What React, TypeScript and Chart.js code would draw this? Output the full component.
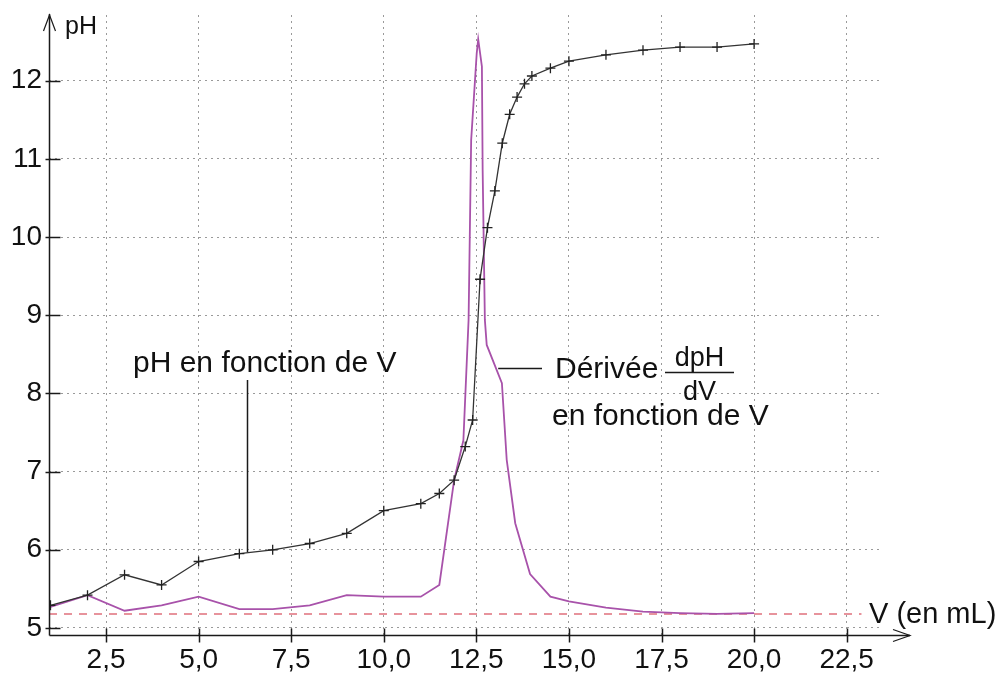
import React, { useEffect, useRef } from "react";
import { Chart, registerables } from "chart.js";

Chart.register(...registerables);

// pH measurements (V in mL)
const phV = [1, 2, 3, 4, 5, 6.1, 7, 8, 9, 10, 11, 11.5, 11.9, 12.2, 12.4, 12.6, 12.8, 13, 13.2, 13.4, 13.6, 13.8, 14, 14.5, 15, 16, 17, 18, 19, 20];
const phValues = [5.29, 5.42, 5.68, 5.55, 5.85, 5.95, 6.0, 6.08, 6.21, 6.5, 6.59, 6.72, 6.89, 7.32, 7.66, 9.46, 10.12, 10.59, 11.2, 11.57, 11.79, 11.96, 12.06, 12.16, 12.25, 12.33, 12.39, 12.43, 12.43, 12.47];

// derivative dpH/dV as drawn on the pH axis
const derivV = [1, 2, 3, 4, 5, 6.1, 7, 8, 9, 10, 11, 11.5, 11.9, 12.15, 12.29, 12.36, 12.51, 12.55, 12.65, 12.67, 12.73, 12.78, 13.19, 13.32, 13.55, 13.95, 14.5, 15, 16, 17, 18, 19, 20];
const derivValues = [5.27, 5.42, 5.22, 5.29, 5.4, 5.24, 5.24, 5.29, 5.42, 5.4, 5.4, 5.55, 6.89, 7.4, 8.94, 11.24, 12.35, 12.53, 12.18, 10.86, 8.94, 8.62, 8.13, 7.15, 6.34, 5.69, 5.4, 5.34, 5.26, 5.21, 5.19, 5.18, 5.19];

// zero line of the derivative
const refV = [0.96, 22.9];
const refValues = [5.18, 5.18];

const xTickValues = [2.5, 5, 7.5, 10, 12.5, 15, 17.5, 20, 22.5];
const xTickLabels = ["2,5", "5,0", "7,5", "10,0", "12,5", "15,0", "17,5", "20,0", "22,5"];
const yTickValues = [5, 6, 7, 8, 9, 10, 11, 12];
const yTickLabels = ["5", "6", "7", "8", "9", "10", "11", "12"];

const FONT = "'Liberation Sans', Arial, sans-serif";

const overlay = {
  id: "overlay",
  afterDraw(chart: any) {
    const ctx = chart.ctx as CanvasRenderingContext2D;
    const { left, right, top, bottom } = chart.chartArea;
    const xs = chart.scales.x;
    const ys = chart.scales.y;
    ctx.save();
    ctx.strokeStyle = "#1a1a1a";
    ctx.lineWidth = 1.5;
    // y axis
    const ax = left + 0.5;
    const ay = bottom + 0.5;
    ctx.beginPath();
    ctx.moveTo(ax, ay);
    ctx.lineTo(ax, top - 1);
    ctx.stroke();
    ctx.lineWidth = 1.2;
    ctx.beginPath();
    ctx.moveTo(ax - 6, top + 16);
    ctx.lineTo(ax, top);
    ctx.lineTo(ax + 6, top + 16);
    ctx.stroke();
    // x axis
    const xEnd = right + 30;
    ctx.lineWidth = 1.5;
    ctx.beginPath();
    ctx.moveTo(ax, ay);
    ctx.lineTo(xEnd, ay);
    ctx.stroke();
    ctx.lineWidth = 1.2;
    ctx.beginPath();
    ctx.moveTo(xEnd - 17, ay - 6);
    ctx.lineTo(xEnd, ay);
    ctx.lineTo(xEnd - 17, ay + 6);
    ctx.stroke();
    // tick marks
    ctx.lineWidth = 1.5;
    yTickValues.forEach((v) => {
      const py = Math.round(ys.getPixelForValue(v)) + 0.5;
      ctx.beginPath();
      ctx.moveTo(ax - 4, py);
      ctx.lineTo(ax + 11, py);
      ctx.stroke();
    });
    xTickValues.forEach((v) => {
      const px = Math.round(xs.getPixelForValue(v)) + 0.5;
      ctx.beginPath();
      ctx.moveTo(px, ay - 7);
      ctx.lineTo(px, ay + 7);
      ctx.stroke();
    });

    // texts
    ctx.fillStyle = "#111";
    ctx.textBaseline = "alphabetic";
    ctx.textAlign = "left";
    ctx.font = `25px ${FONT}`;
    ctx.fillText("pH", 65, 34);
    ctx.font = `29px ${FONT}`;
    ctx.fillText("V (en mL)", 869, 623);
    ctx.font = `30px ${FONT}`;
    ctx.fillText("pH en fonction de V", 133, 372);
    ctx.fillText("Dérivée", 555, 378);
    ctx.fillText("en fonction de V", 552, 425);
    ctx.font = `27px ${FONT}`;
    ctx.textAlign = "center";
    ctx.fillText("dpH", 699.5, 366);
    ctx.fillText("dV", 699.5, 400);
    ctx.lineWidth = 1.5;
    ctx.beginPath();
    ctx.moveTo(665, 372.5);
    ctx.lineTo(734, 372.5);
    ctx.stroke();

    // connectors
    const c1x = Math.round(xs.getPixelForValue(6.3)) + 0.5;
    const c1y = ys.getPixelForValue(5.97);
    ctx.beginPath();
    ctx.moveTo(c1x, 380);
    ctx.lineTo(c1x, c1y);
    ctx.stroke();
    const c2x = xs.getPixelForValue(13.09);
    const c2y = Math.round(ys.getPixelForValue(8.32)) + 0.5;
    ctx.beginPath();
    ctx.moveTo(c2x, c2y);
    ctx.lineTo(542, c2y);
    ctx.stroke();
    ctx.restore();
  },
};

export default function App() {
  const ref = useRef<HTMLCanvasElement | null>(null);
  useEffect(() => {
    if (!ref.current) return;
    const toPts = (xsArr: number[], ysArr: number[]) => xsArr.map((x, i) => ({ x, y: ysArr[i] }));
    const chart = new Chart(ref.current, {
      type: "scatter",
      data: {
        datasets: [
          {
            label: "pH",
            data: toPts(phV, phValues),
            showLine: true,
            borderColor: "#333",
            borderWidth: 1.3,
            pointStyle: "cross",
            pointRadius: 5,
            pointBorderColor: "#222",
            pointBorderWidth: 1.3,
            pointBackgroundColor: "#222",
            tension: 0,
            order: 0,
          },
          {
            label: "dpH/dV",
            data: toPts(derivV, derivValues),
            showLine: true,
            borderColor: "#a852aa",
            borderWidth: 1.8,
            pointRadius: 0,
            tension: 0,
            order: 1,
          },
          {
            label: "zero",
            data: toPts(refV, refValues),
            showLine: true,
            borderColor: "#e0707c",
            borderWidth: 1.5,
            borderDash: [8, 7],
            pointRadius: 0,
            tension: 0,
            order: 2,
          },
        ],
      },
      options: {
        responsive: false,
        animation: false,
        devicePixelRatio: 1,
        layout: { padding: { left: 0, top: 15, right: 121, bottom: 0 } },
        plugins: { legend: { display: false }, tooltip: { enabled: false } },
        scales: {
          x: {
            type: "linear",
            min: 0.96,
            max: 23.4,
            afterBuildTicks: (s: any) => {
              s.ticks = xTickValues.map((v) => ({ value: v }));
            },
            afterFit: (s: any) => {
              s.height = 40;
              s.paddingLeft = 0;
              s.paddingRight = 0;
              s.paddingTop = 0;
              s.paddingBottom = 0;
            },
            ticks: {
              callback: (v: any) => {
                const i = xTickValues.indexOf(Number(v));
                return i >= 0 ? xTickLabels[i] : "";
              },
              font: { family: FONT, size: 28 },
              color: "#111",
              padding: 8,
              maxRotation: 0,
              autoSkip: false,
            },
            grid: { color: "#9a9a9a", lineWidth: 1, drawTicks: false },
            border: { display: false, dash: [2, 4] },
          },
          y: {
            type: "linear",
            min: 4.91,
            max: 12.84,
            afterBuildTicks: (s: any) => {
              s.ticks = yTickValues.map((v) => ({ value: v }));
            },
            afterFit: (s: any) => {
              s.width = 49;
              s.paddingLeft = 0;
              s.paddingRight = 0;
              s.paddingTop = 0;
              s.paddingBottom = 0;
            },
            ticks: {
              callback: (v: any) => {
                const i = yTickValues.indexOf(Number(v));
                return i >= 0 ? yTickLabels[i] : "";
              },
              font: { family: FONT, size: 28 },
              color: "#111",
              padding: 7,
              autoSkip: false,
            },
            grid: { color: "#9a9a9a", lineWidth: 1, drawTicks: false },
            border: { display: false, dash: [2, 4] },
          },
        },
      },
      plugins: [overlay],
    });
    return () => chart.destroy();
  }, []);
  return (
    <div style={{ position: "absolute", left: 0, top: 0, width: 1001, height: 675, background: "#fff" }}>
      <canvas ref={ref} width={1001} height={675} style={{ display: "block", width: 1001, height: 675 }} />
    </div>
  );
}
